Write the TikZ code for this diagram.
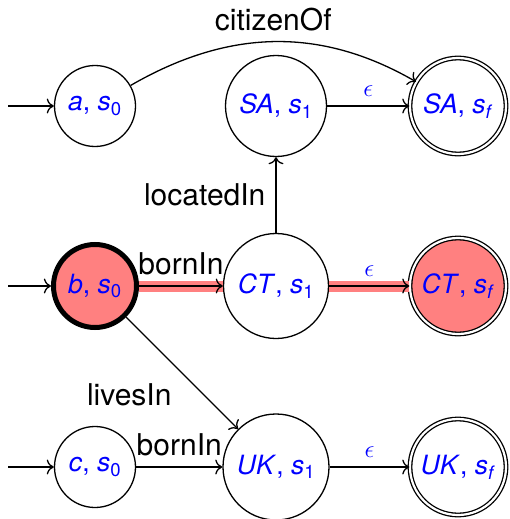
\documentclass[tikz,border=0pt]{standalone}
\usepackage{fontspec}
\setmainfont{TeX Gyre Heros}
\usetikzlibrary{arrows.meta}

% state label: italic name, comma, italic s with a subscript
\newcommand\stlab[2]{\textit{#1\/}, \textit{s}\textsubscript{#2}}

\begin{document}
\begin{tikzpicture}[x=1pt,y=-1pt,
  every node/.style={font=\fontsize{26.5}{31}\selectfont},
  stnode/.style={circle, draw, line width=1.3pt, fill=white, text=blue,
                 inner sep=0pt, minimum size=#1},
  accepting/.style={double, double distance=2.2pt},
  conn/.style={line width=1.3pt, -{To[scale=1.6]}},
  rel/.style={font=\fontsize{30}{36}\selectfont, text=black, inner sep=10pt},
  eps/.style={text=blue, inner sep=9pt},
  band/.style={preaction={draw=red!50, line width=11pt, arrows=-}}
]
\useasboundingbox (0,0) rectangle (509,519);

% states
\node[stnode=81] (a) at (95,106) {\stlab{a}{0}};
\node[stnode=101] (sa1) at (276,106) {\stlab{SA}{1}};
\node[stnode=96, accepting] (saf) at (458,106) {\stlab{SA}{\textit{f}}};

\node[stnode=83, line width=5pt, fill=red!50] (b) at (95,286) {\stlab{b}{0}};
\node[stnode=105] (ct1) at (276,286) {\stlab{CT}{1}};
\node[stnode=96, accepting, fill=red!50] (ctf) at (458,286) {\stlab{CT}{\textit{f}}};

\node[stnode=81] (c) at (95,467) {\stlab{c}{0}};
\node[stnode=106] (uk1) at (276,467) {\stlab{UK}{1}};
\node[stnode=96, accepting] (ukf) at (458,467) {\stlab{UK}{\textit{f}}};

% entry points
\coordinate (ia) at (8,106);
\coordinate (ib) at (8,286);
\coordinate (ic) at (8,467);

% transitions
\draw[conn] (ia) -- (a);
\draw[conn] (ib) -- (b);
\draw[conn] (ic) -- (c);

\draw[conn] (a) to[out=30, in=150] node[rel, above] {citizenOf} (saf);
\draw[conn] (sa1) -- node[eps, above] {$\epsilon$} (saf);
\draw[conn] (ct1) -- node[rel, left] {locatedIn} (sa1);

\draw[conn, band] (b) -- node[rel, above] {bornIn} (ct1);
\draw[conn, band] (ct1) -- node[eps, above] {$\epsilon$} (ctf);
\draw[conn] (b) -- node[rel, below left, pos=0.5] {livesIn} (uk1);

\draw[conn] (c) -- node[rel, above] {bornIn} (uk1);
\draw[conn] (uk1) -- node[eps, above] {$\epsilon$} (ukf);
\end{tikzpicture}
\end{document}
